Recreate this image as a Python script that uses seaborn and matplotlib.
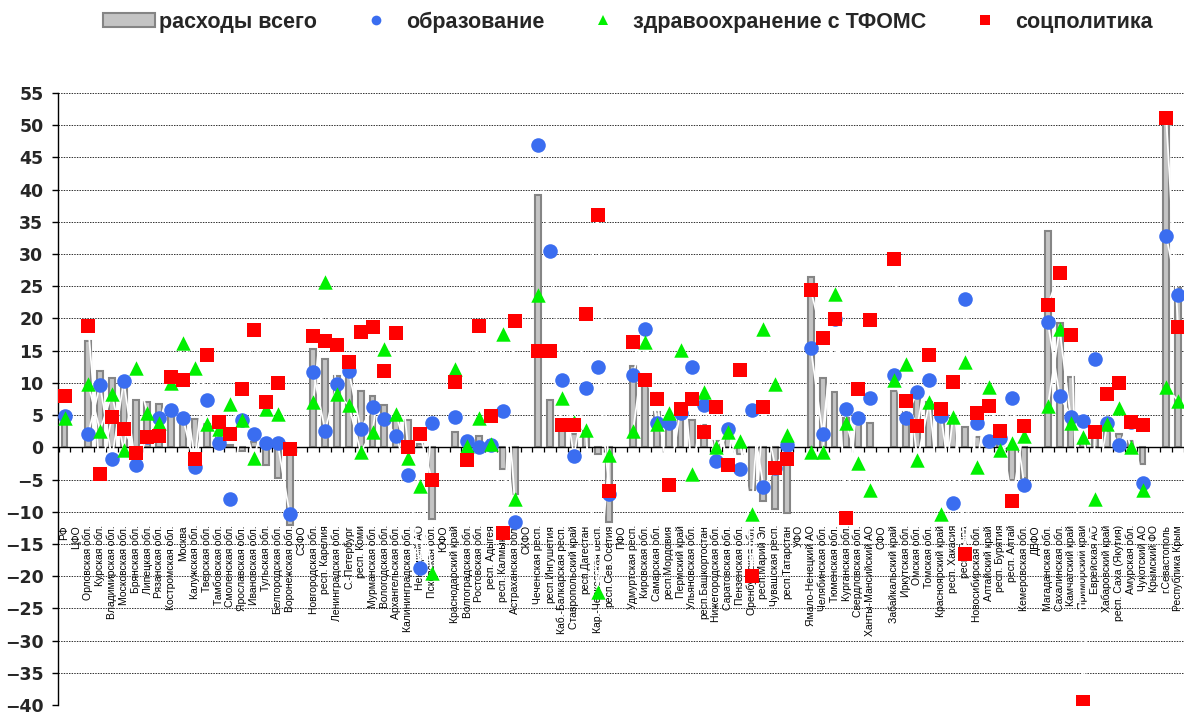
import numpy as np
import pandas as pd
import matplotlib
matplotlib.use("Agg")
import matplotlib.pyplot as plt
import seaborn as sns
from matplotlib.patches import Patch
from matplotlib.lines import Line2D

nan = np.nan

regions = [
    "РФ", "ЦФО", "Орловская обл.", "Курская обл.", "Владимирская обл.", "Московская обл.",
    "Брянская обл.", "Липецкая обл.", "Рязанская обл.", "Костромская обл.", "Москва",
    "Калужская обл.", "Тверская обл.", "Тамбовская обл.", "Смоленская обл.", "Ярославская обл.",
    "Ивановская обл.", "Тульская обл.", "Белгородская обл.", "Воронежская обл.", "СЗФО",
    "Новгородская обл.", "респ. Карелия", "Ленинградская обл.", "С.-Петербург", "респ. Коми",
    "Мурманская обл.", "Вологодская обл.", "Архангельская обл.", "Калининградская обл.",
    "Ненецкий АО", "Псковская обл.", "ЮФО", "Краснодарский край", "Волгоградская обл.",
    "Ростовская обл.", "респ. Адыгея", "респ. Калмыкия", "Астраханская обл.", "СКФО",
    "Чеченская респ.", "респ.Ингушетия", "Каб.-Балкарская респ.", "Ставропольский край",
    "респ.Дагестан", "Кар.-Черкесская респ.", "респ.Сев.Осетия", "ПФО", "Удмуртская респ.",
    "Кировская обл.", "Самарская обл.", "респ.Мордовия", "Пермский край", "Ульяновская обл.",
    "респ.Башкортостан", "Нижегородская обл.", "Саратовская обл.", "Пензенская обл.",
    "Оренбургская обл.", "респ.Марий Эл", "Чувашская респ.", "респ.Татарстан", "УФО",
    "Ямало-Ненецкий АО", "Челябинская обл.", "Тюменская обл.", "Курганская обл.",
    "Свердловская обл.", "Ханты-Мансийский АО", "СФО", "Забайкальский край", "Иркутская обл.",
    "Омская обл.", "Томская обл.", "Красноярский край", "респ. Хакасия", "респ. Тыва",
    "Новосибирская обл.", "Алтайский край", "респ. Бурятия", "респ. Алтай", "Кемеровская обл.",
    "ДВФО", "Магаданская обл.", "Сахалинская обл.", "Камчатский край", "Приморский край",
    "Еврейская АО", "Хабаровский край", "респ. Саха (Якутия)", "Амурская обл.", "Чукотский АО",
    "Крымский ФО", "г.Севастополь", "Республика Крым",
]

# расходы всего
total = [
    5.0, nan, 16.5, 11.9, 10.7, 10.0, 7.3, 7.0, 6.8, 5.6, 4.4,
    4.4, 3.6, 4.4, 0.3, -0.5, 0.8, -2.7, -4.7, -12.1, nan,
    15.2, 13.7, 11.0, 11.0, 8.8, 8.0, 6.5, 4.3, 4.3, 0.5, -11.1, nan,
    2.4, 1.0, 1.8, 1.2, -3.3, -7.2, nan,
    39.1, 7.4, 3.0, 2.0, 2.5, -1.0, -11.6, nan,
    12.6, 9.6, 5.5, 4.5, 4.8, 4.2, 3.5, 1.0, 1.5, -1.0, -6.7, -8.4, -9.6, -10.2, nan,
    26.5, 10.8, 8.6, 4.5, 4.0, 3.7, nan,
    8.7, 5.5, 8.0, 7.0, 5.0, 4.5, 3.2, 1.6, 1.2, 1.5, -5.0, -4.8, nan,
    33.6, 19.3, 10.9, 1.0, 3.0, 2.6, 2.0, 1.0, -2.6, nan,
    50.3, 24.8,
]

# образование
education = [
    4.9, nan, 2.1, 9.7, -1.8, 10.3, -2.7, 1.6, 4.6, 5.8, 4.5,
    -3.1, 7.4, 0.7, -8.1, 4.2, 2.1, 0.7, 0.6, -10.3, nan,
    11.7, 2.6, 9.9, 11.8, 2.8, 6.2, 4.4, 1.7, -4.3, -18.7, 3.8, nan,
    4.7, 1.0, 0.0, 0.4, 5.7, -11.6, nan,
    47.0, 30.5, 10.4, -1.3, 9.2, 12.5, -7.2, nan,
    11.3, 18.4, 3.8, 3.7, 5.3, 12.4, 6.6, -2.2, 2.8, -3.4, 5.8, -6.2, -3.2, 0.4, nan,
    15.4, 2.0, 19.9, 5.9, 4.5, 7.7, nan,
    11.3, 4.6, 8.6, 10.5, 4.8, -8.6, 23.1, 3.7, 1.0, 1.5, 7.7, -5.8, nan,
    19.5, 8.0, 4.7, 4.1, 13.7, 3.7, 0.3, 3.9, -5.6, nan,
    32.8, 23.6,
]

# здравоохранение с ТФОМС
health = [
    4.6, nan, 9.8, 2.6, 8.3, -0.4, 12.3, 5.3, 3.8, 10.0, 16.2,
    12.3, 3.6, 2.8, 6.8, 4.3, -1.7, 6.0, 5.2, nan, nan,
    7.0, 25.6, 8.3, 6.5, -0.7, 2.4, 15.2, 5.1, -1.6, -6.0, -19.5, nan,
    12.1, 0.2, 4.5, 0.5, 17.6, -8.0, nan,
    23.6, nan, 7.6, 4.0, 2.7, -22.5, -1.2, nan,
    2.6, 16.3, 3.6, 5.3, 15.1, -4.2, 8.6, 0.1, 2.4, 1.0, -10.3, 18.4, 9.9, 1.9, nan,
    -0.8, -0.8, 23.8, 3.7, -2.5, -6.7, nan,
    10.5, 13.0, -1.9, 7.0, -10.4, 4.7, 13.2, -3.0, 9.3, -0.4, 0.6, 1.8, nan,
    6.4, 18.3, 3.7, 1.6, -8.1, 3.6, 6.1, 0.1, -6.7, nan,
    9.4, 7.2,
]

# соцполитика
social = [
    8.0, nan, 18.9, -4.2, 4.7, 2.8, -0.9, 1.6, 1.7, 10.9, 10.5,
    -1.8, 14.4, 3.9, 2.0, 9.0, 18.2, 7.0, 10.0, -0.3, nan,
    17.3, 16.5, 15.9, 13.3, 17.9, 18.6, 11.9, 17.7, 0.0, 2.1, -5.0, nan,
    10.2, -1.9, 18.9, 4.8, -13.3, 19.6, nan,
    14.9, 14.9, 3.4, 3.4, 20.7, 36.0, -6.8, nan,
    16.4, 10.4, 7.5, -5.9, 6.0, 7.5, 2.3, 6.2, -2.8, 12.0, -20.0, 6.3, -3.2, -1.8, nan,
    24.4, 16.9, 19.9, -10.9, 9.0, 19.7, nan,
    29.2, 7.2, 3.3, 14.3, 6.0, 10.1, -16.6, 5.3, 6.4, 2.6, -8.4, 3.3, nan,
    22.1, 27.0, 17.4, -39.5, 2.4, 8.2, 10.0, 3.9, 3.4, nan,
    51.1, 18.6,
]

legend_labels = ["расходы всего", "образование", "здравоохранение с ТФОМС", "соцполитика"]

BAR_FACE = "#c4c4c4"
BAR_EDGE = "#858585"
BLUE = "#3a6df0"
GREEN = "#00f000"
RED = "#ff0000"

n = len(regions)
pos = np.arange(n)
df = pd.DataFrame({
    "region": regions, "pos": pos, "total": total,
    "education": education, "health": health, "social": social,
})

sns.set_theme(style="white")
plt.rcParams["font.family"] = ["Liberation Sans", "DejaVu Sans"]

fig = plt.figure(figsize=(11.84, 7.15), dpi=100)
ax = fig.add_axes([58 / 1184, 10 / 715, 1126 / 1184, 612 / 715])

# total expenditure as thin bars
sns.barplot(data=df, x="region", y="total", order=regions, width=0.5,
            color=BAR_FACE, edgecolor=BAR_EDGE, linewidth=1.5, saturation=1,
            errorbar=None, ax=ax, zorder=2)

# thin white connectors between neighbouring points of each series
for col in ["education", "health", "social"]:
    ax.plot(pos, df[col], color="white", lw=1.3, zorder=3)

sns.scatterplot(data=df, x="pos", y="education", marker="o", s=110, color=BLUE,
                linewidth=0, ax=ax, zorder=4, legend=False)
sns.scatterplot(data=df, x="pos", y="health", marker="^", s=108, color=GREEN,
                linewidth=0, ax=ax, zorder=5, legend=False)
sns.scatterplot(data=df, x="pos", y="social", marker="s", s=112, color=RED,
                linewidth=0, ax=ax, zorder=6, legend=False)

# axes
ax.set_xlim(-0.55, n - 0.5)
ax.set_ylim(-40, 55)
ax.set_yticks(np.arange(-40, 56, 5))
ax.set_xlabel("")
ax.set_ylabel("")
ax.yaxis.grid(True, linestyle=(0, (1.5, 1.2)), color="#303030", lw=0.7)
ax.xaxis.grid(False)
ax.set_axisbelow(True)

for side in ["top", "right"]:
    ax.spines[side].set_visible(False)
ax.spines["left"].set_color("black")
ax.spines["left"].set_linewidth(1.0)
ax.spines["bottom"].set_position(("data", 0))
ax.spines["bottom"].set_color("black")
ax.spines["bottom"].set_linewidth(1.0)
ax.spines["bottom"].set_zorder(2.5)

ax.tick_params(axis="y", which="major", left=True, length=4.5, width=1, color="black",
               direction="out", pad=6)
for lbl in ax.get_yticklabels():
    lbl.set_fontfamily("DejaVu Sans")
    lbl.set_fontweight("bold")
    lbl.set_fontsize(12.5)

ax.set_xticks(pos)
ax.set_xticklabels(regions, rotation=90, fontsize=7.5, color="black")
ax.tick_params(axis="x", which="major", length=0, pad=56)
ax.set_xticks(np.arange(n + 1) - 0.5, minor=True)
ax.tick_params(axis="x", which="minor", bottom=True, length=3.5, width=0.9,
               color="black", direction="out")

handles = [
    Patch(facecolor=BAR_FACE, edgecolor=BAR_EDGE, linewidth=1.5),
    Line2D([], [], linestyle="none", marker="o", markersize=7, color=BLUE, markeredgewidth=0),
    Line2D([], [], linestyle="none", marker="^", markersize=7, color=GREEN, markeredgewidth=0),
    Line2D([], [], linestyle="none", marker="s", markersize=6.5, color=RED, markeredgewidth=0),
]
fig.legend(handles, legend_labels, loc="center left", bbox_to_anchor=(103 / 1184, 1 - 22 / 715),
           ncol=4, frameon=False, borderpad=0, borderaxespad=0, handlelength=2.43,
           handleheight=0.65, handletextpad=0.19, columnspacing=1.5,
           prop={"weight": "bold", "size": 15.5})

fig.savefig("out.png", dpi=100)
